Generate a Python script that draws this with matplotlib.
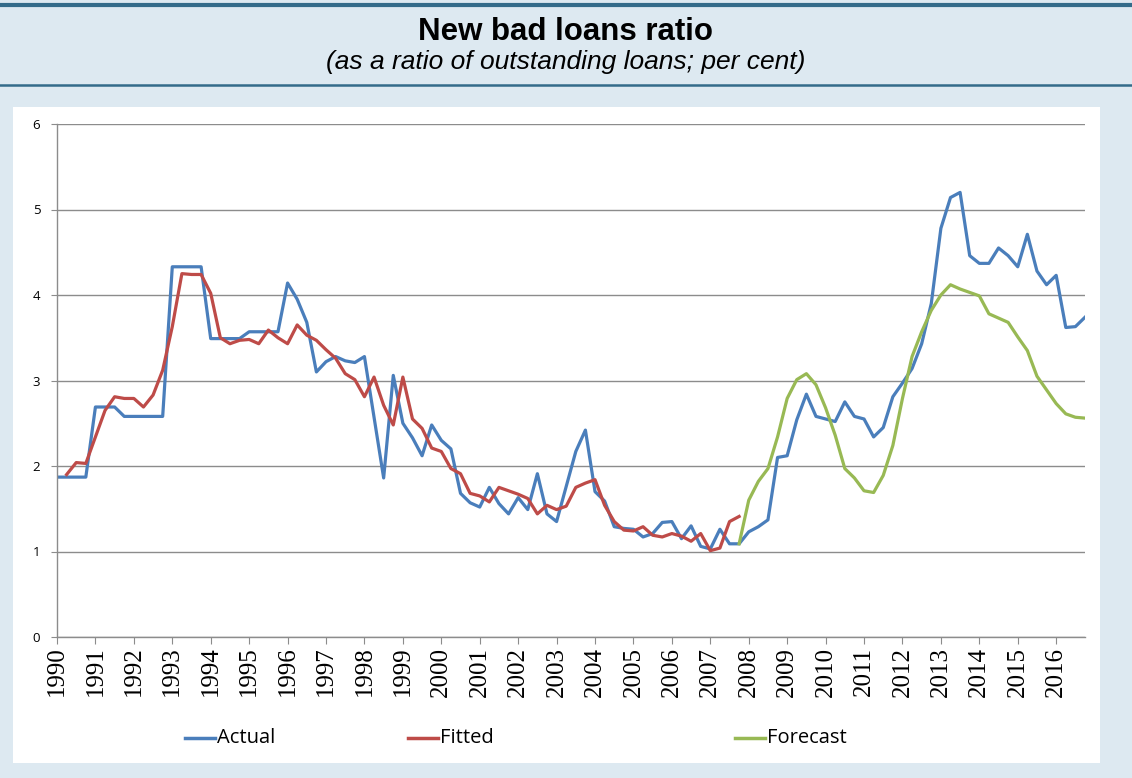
import matplotlib
matplotlib.use("Agg")
import matplotlib.pyplot as plt
from matplotlib.patches import Rectangle
from matplotlib.lines import Line2D
import numpy as np

# Quarterly series, 1990Q1 - 2016Q4 (per cent of outstanding loans)
years = list(range(1990, 2017))

actual = [
    1.87, 1.87, 1.87, 1.87, 2.69, 2.69, 2.69, 2.58, 2.58, 2.58, 2.58, 2.58,
    4.33, 4.33, 4.33, 4.33, 3.49, 3.49, 3.49, 3.49, 3.57, 3.57, 3.57, 3.57,
    4.14, 3.95, 3.68, 3.10, 3.22, 3.28, 3.23, 3.21, 3.28, 2.57, 1.86, 3.06,
    2.50, 2.33, 2.12, 2.48, 2.30, 2.20, 1.68, 1.57, 1.52, 1.75, 1.56, 1.44,
    1.63, 1.49, 1.91, 1.44, 1.35, 1.76, 2.17, 2.42, 1.70, 1.59, 1.29, 1.27,
    1.26, 1.17, 1.21, 1.34, 1.35, 1.15, 1.30, 1.06, 1.03, 1.26, 1.09, 1.09,
    1.23, 1.29, 1.37, 2.10, 2.12, 2.54, 2.84, 2.58, 2.55, 2.52, 2.75, 2.58,
    2.55, 2.34, 2.45, 2.81, 2.97, 3.14, 3.43, 3.90, 4.78, 5.14, 5.20, 4.46,
    4.37, 4.37, 4.55, 4.46, 4.33, 4.71, 4.28, 4.12, 4.23, 3.62, 3.63, 3.74,
]

# Fitted values cover 1990Q2 - 2007Q4
fitted_start = 1
fitted = [
    1.90, 2.04, 2.03, 2.34, 2.65, 2.81, 2.79, 2.79, 2.69, 2.83, 3.12,
    3.63, 4.25, 4.24, 4.24, 4.02, 3.50, 3.43, 3.47, 3.48, 3.43, 3.59, 3.50,
    3.43, 3.65, 3.53, 3.47, 3.36, 3.26, 3.08, 3.01, 2.81, 3.04, 2.71, 2.48,
    3.04, 2.55, 2.44, 2.21, 2.17, 1.97, 1.91, 1.68, 1.65, 1.58, 1.75, 1.71,
    1.67, 1.62, 1.44, 1.54, 1.49, 1.53, 1.75, 1.80, 1.84, 1.54, 1.35, 1.25,
    1.24, 1.29, 1.19, 1.17, 1.21, 1.18, 1.12, 1.21, 1.01, 1.04, 1.35, 1.41,
]

# Forecast runs from 2007Q4 to 2016Q4
forecast_start = 71
forecast = [
    1.09, 1.60, 1.82, 1.97, 2.34, 2.79, 3.01, 3.08, 2.95, 2.68, 2.36, 1.97,
    1.86, 1.71, 1.69, 1.89, 2.24, 2.79, 3.28, 3.57, 3.82, 4.00, 4.12, 4.07,
    4.03, 3.99, 3.78, 3.73, 3.68, 3.51, 3.35, 3.05, 2.89, 2.73, 2.61, 2.57,
    2.56,
]

BLUE = "#4A7EBB"
RED = "#BE4B48"
GREEN = "#98B954"
BG = "#DDE9F1"
RULE = "#336B8A"
GRID = "#8C8C8C"

W, H = 1132, 778
fig = plt.figure(figsize=(W / 100, H / 100), dpi=100)
fig.patch.set_facecolor(BG)


def fx(px):
    return px / W


def fy(py):
    return 1 - py / H


# header rules and white chart panel (kept behind the axes)
fig.add_artist(Line2D([0, 1], [fy(4.5), fy(4.5)], color=RULE, lw=3.0))
fig.add_artist(Line2D([0, 1], [fy(85), fy(85)], color=RULE, lw=1.8))
fig.add_artist(Rectangle((fx(13), fy(763)), fx(1100 - 13), (763 - 107) / H,
                         facecolor="white", edgecolor="none", zorder=-5))

fig.text(0.5, fy(32), "New bad loans ratio", ha="center", va="center",
         fontsize=22.5, fontweight="bold", family="Liberation Sans")
fig.text(0.5, fy(62), "(as a ratio of outstanding loans; per cent)",
         ha="center", va="center", fontsize=19, style="italic",
         family="Liberation Sans")

left, right, top, bottom = 57, 1085, 124, 637
ax = fig.add_axes([fx(left), fy(bottom), fx(right - left), (bottom - top) / H])
ax.set_facecolor("white")
ax.patch.set_alpha(0)

n = len(actual)
q = np.arange(n)
ax.plot(q, actual, color=BLUE, lw=2.3, label="Actual")
ax.plot(q[fitted_start:fitted_start + len(fitted)], fitted, color=RED, lw=2.3,
        label="Fitted")
ax.plot(q[forecast_start:forecast_start + len(forecast)], forecast, color=GREEN,
        lw=2.3, label="Forecast")

ax.set_xlim(0, n - 1)
ax.set_ylim(0, 6)
ax.set_yticks(range(0, 7))
ax.yaxis.grid(True, color=GRID, lw=1.0)
ax.set_axisbelow(True)
ax.set_xticks(np.arange(0, n, 4))
ax.set_xticklabels([str(y) for y in years], rotation=90,
                   family="Liberation Serif", fontsize=18)
ax.tick_params(axis="x", length=5, color=GRID, pad=2)
ax.tick_params(axis="y", length=4, color=GRID, labelsize=9.5, pad=8)
for lab in ax.get_yticklabels():
    lab.set_family("Open Sans")
for s in ("top", "right"):
    ax.spines[s].set_visible(False)
for s in ("left", "bottom"):
    ax.spines[s].set_color(GRID)
    ax.spines[s].set_linewidth(1.0)

# legend entries laid out across the bottom of the panel
entries = [("Actual", BLUE, 185), ("Fitted", RED, 408), ("Forecast", GREEN, 735)]
for name, col, x0 in entries:
    fig.add_artist(Line2D([fx(x0), fx(x0 + 30)], [fy(738), fy(738)],
                          color=col, lw=2.5))
    fig.text(fx(x0 + 32), fy(738), name, ha="left", va="center",
             fontsize=14.5, family="Open Sans")

fig.savefig("out.png", dpi=100, facecolor=BG)
